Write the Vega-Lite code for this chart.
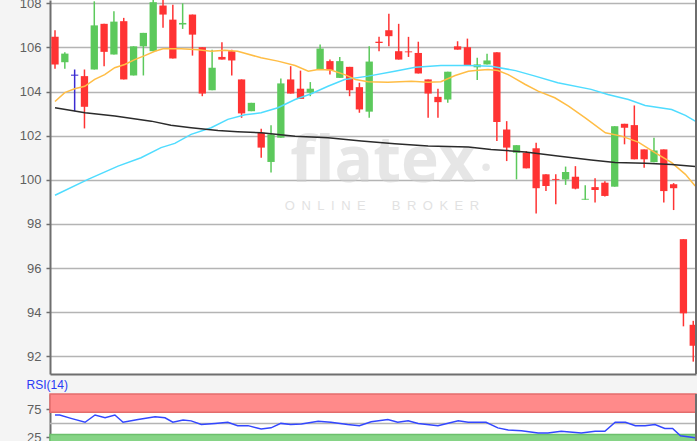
{
  "$schema": "https://vega.github.io/schema/vega-lite/v6.json",
  "background": "#f4f4f4",
  "padding": {"left": 19, "top": -3, "right": 0, "bottom": 0},
  "spacing": 4,
  "config": {
    "view": {"stroke": null, "fill": "#ffffff"},
    "font": "Liberation Sans",
    "axis": {
      "labelFont": "Liberation Sans", "labelFontSize": 13, "labelColor": "#5f5f5f",
      "domainColor": "#6e6e6e", "domainWidth": 2, "tickColor": "#6e6e6e", "tickSize": 4, "tickWidth": 1.5,
      "labelPadding": 5, "title": null, "gridColor": "#b4b4b4", "gridWidth": 1.5
    }
  },
  "datasets": {
    "one": [{}],
    "candles": [
      {"i": 1, "o": 106.48, "h": 106.78, "l": 105.03, "c": 105.23},
      {"i": 2, "o": 105.33, "h": 105.78, "l": 105.03, "c": 105.72},
      {"i": 3, "o": 104.74, "h": 105.0, "l": 103.11, "c": 104.74},
      {"i": 4, "o": 104.7, "h": 105.0, "l": 102.33, "c": 103.31},
      {"i": 5, "o": 105.0, "h": 108.09, "l": 105.0, "c": 107.0},
      {"i": 6, "o": 107.07, "h": 107.07, "l": 105.15, "c": 105.8},
      {"i": 7, "o": 105.68, "h": 107.64, "l": 105.68, "c": 107.17},
      {"i": 8, "o": 107.19, "h": 107.34, "l": 104.55, "c": 104.55},
      {"i": 9, "o": 104.73, "h": 106.05, "l": 104.73, "c": 106.05},
      {"i": 10, "o": 106.05, "h": 106.66, "l": 104.73, "c": 106.66},
      {"i": 11, "o": 105.83, "h": 108.4, "l": 105.83, "c": 108.05},
      {"i": 12, "o": 107.9, "h": 108.4, "l": 106.89, "c": 107.49},
      {"i": 13, "o": 107.26, "h": 107.94, "l": 105.5, "c": 105.5},
      {"i": 14, "o": 107.04, "h": 108.0, "l": 106.84, "c": 107.11},
      {"i": 15, "o": 107.49, "h": 107.49, "l": 105.63, "c": 106.58},
      {"i": 16, "o": 106.01, "h": 106.01, "l": 103.79, "c": 103.91},
      {"i": 17, "o": 104.06, "h": 105.9, "l": 104.06, "c": 105.08},
      {"i": 18, "o": 105.57, "h": 106.24, "l": 105.45, "c": 105.45},
      {"i": 19, "o": 105.83, "h": 105.9, "l": 104.73, "c": 105.41},
      {"i": 20, "o": 104.55, "h": 104.55, "l": 102.81, "c": 103.01},
      {"i": 21, "o": 103.11, "h": 103.49, "l": 103.11, "c": 103.49},
      {"i": 22, "o": 102.13, "h": 102.32, "l": 101.0, "c": 101.46},
      {"i": 23, "o": 100.81, "h": 102.47, "l": 100.33, "c": 102.06},
      {"i": 24, "o": 101.91, "h": 104.59, "l": 101.91, "c": 104.37},
      {"i": 25, "o": 104.55, "h": 105.15, "l": 103.91, "c": 103.91},
      {"i": 26, "o": 104.13, "h": 104.95, "l": 103.67, "c": 103.67},
      {"i": 27, "o": 103.95, "h": 104.43, "l": 103.79, "c": 104.13},
      {"i": 28, "o": 105.0, "h": 106.13, "l": 105.0, "c": 105.95},
      {"i": 29, "o": 105.38, "h": 105.45, "l": 104.77, "c": 104.97},
      {"i": 30, "o": 104.62, "h": 105.57, "l": 104.62, "c": 105.38},
      {"i": 31, "o": 105.12, "h": 105.12, "l": 103.79, "c": 104.06},
      {"i": 32, "o": 104.2, "h": 104.4, "l": 103.04, "c": 103.19},
      {"i": 33, "o": 103.09, "h": 106.05, "l": 102.81, "c": 105.36},
      {"i": 34, "o": 106.26, "h": 106.48, "l": 105.83, "c": 106.2},
      {"i": 35, "o": 106.78, "h": 107.53, "l": 106.05, "c": 106.51},
      {"i": 36, "o": 105.83, "h": 107.07, "l": 105.45, "c": 105.45},
      {"i": 37, "o": 105.82, "h": 106.48, "l": 105.57, "c": 105.78},
      {"i": 38, "o": 105.75, "h": 106.26, "l": 104.82, "c": 104.82},
      {"i": 39, "o": 104.55, "h": 104.55, "l": 102.81, "c": 103.91},
      {"i": 40, "o": 103.76, "h": 104.13, "l": 102.81, "c": 103.52},
      {"i": 41, "o": 103.64, "h": 104.9, "l": 103.49, "c": 104.9},
      {"i": 42, "o": 106.05, "h": 106.28, "l": 105.9, "c": 105.9},
      {"i": 43, "o": 106.01, "h": 106.4, "l": 105.19, "c": 105.19},
      {"i": 44, "o": 105.1, "h": 105.53, "l": 104.52, "c": 105.23},
      {"i": 45, "o": 105.23, "h": 105.71, "l": 105.23, "c": 105.41},
      {"i": 46, "o": 105.78, "h": 105.78, "l": 101.76, "c": 102.62},
      {"i": 47, "o": 102.28, "h": 102.66, "l": 100.85, "c": 101.46},
      {"i": 48, "o": 101.23, "h": 101.57, "l": 100.02, "c": 101.57},
      {"i": 49, "o": 101.23, "h": 101.3, "l": 100.52, "c": 100.52},
      {"i": 50, "o": 101.43, "h": 101.68, "l": 98.47, "c": 99.62},
      {"i": 51, "o": 100.25, "h": 100.25, "l": 99.49, "c": 99.72},
      {"i": 52, "o": 100.04, "h": 100.25, "l": 98.89, "c": 100.0},
      {"i": 53, "o": 100.02, "h": 100.6, "l": 99.77, "c": 100.35},
      {"i": 54, "o": 100.14, "h": 100.62, "l": 99.57, "c": 99.6},
      {"i": 55, "o": 99.1, "h": 99.75, "l": 99.1, "c": 99.14},
      {"i": 56, "o": 99.67, "h": 100.07, "l": 98.97, "c": 99.54},
      {"i": 57, "o": 99.87, "h": 99.93, "l": 99.25, "c": 99.27},
      {"i": 58, "o": 99.69, "h": 102.43, "l": 99.69, "c": 102.43},
      {"i": 59, "o": 102.54, "h": 102.54, "l": 101.61, "c": 102.36},
      {"i": 60, "o": 102.48, "h": 103.37, "l": 100.93, "c": 100.93},
      {"i": 61, "o": 101.38, "h": 101.38, "l": 100.55, "c": 100.93},
      {"i": 62, "o": 100.8, "h": 101.91, "l": 100.8, "c": 101.33},
      {"i": 63, "o": 101.38, "h": 101.38, "l": 98.97, "c": 99.49},
      {"i": 64, "o": 99.8, "h": 99.85, "l": 98.63, "c": 99.62},
      {"i": 65, "o": 97.31, "h": 97.31, "l": 93.36, "c": 93.95},
      {"i": 66, "o": 93.43, "h": 93.61, "l": 91.76, "c": 92.48}
    ],
    "orange": [
      {"i": 1, "v": 103.55}, {"i": 1.99, "v": 103.95}, {"i": 3.0, "v": 104.13}, {"i": 4.03, "v": 104.24},
      {"i": 5.04, "v": 104.55}, {"i": 6.06, "v": 104.77}, {"i": 7.08, "v": 105.08}, {"i": 8.1, "v": 105.23},
      {"i": 9.12, "v": 105.45}, {"i": 10.14, "v": 105.63}, {"i": 11.16, "v": 105.83}, {"i": 12.0, "v": 105.94},
      {"i": 13.84, "v": 105.94}, {"i": 15.57, "v": 105.9}, {"i": 16.9, "v": 105.83}, {"i": 18.3, "v": 105.87},
      {"i": 19.6, "v": 105.83}, {"i": 21.99, "v": 105.53}, {"i": 23.7, "v": 105.38}, {"i": 25.45, "v": 105.18},
      {"i": 26.8, "v": 104.92}, {"i": 27.8, "v": 105.0}, {"i": 29.1, "v": 104.98}, {"i": 30.5, "v": 104.77},
      {"i": 31.6, "v": 104.55}, {"i": 32.9, "v": 104.44}, {"i": 34.9, "v": 104.42}, {"i": 37.3, "v": 104.47},
      {"i": 39.0, "v": 104.42}, {"i": 40.3, "v": 104.45}, {"i": 41.75, "v": 104.73}, {"i": 43.1, "v": 104.92},
      {"i": 43.8, "v": 104.95}, {"i": 45.1, "v": 105.0}, {"i": 46.1, "v": 104.95}, {"i": 47.15, "v": 104.77},
      {"i": 48.9, "v": 104.32}, {"i": 50.2, "v": 104.02}, {"i": 51.9, "v": 103.72}, {"i": 53.3, "v": 103.34},
      {"i": 55.0, "v": 102.81}, {"i": 57.05, "v": 102.13}, {"i": 58.7, "v": 101.98}, {"i": 60.4, "v": 101.71},
      {"i": 62.1, "v": 101.23}, {"i": 63.8, "v": 100.78}, {"i": 65.2, "v": 100.25}, {"i": 66.2, "v": 99.72}
    ],
    "cyan": [
      {"i": 1, "v": 99.3}, {"i": 4.36, "v": 100.02}, {"i": 7.42, "v": 100.62}, {"i": 9.76, "v": 101.0},
      {"i": 11.8, "v": 101.46}, {"i": 13.2, "v": 101.65}, {"i": 14.86, "v": 102.06}, {"i": 16.9, "v": 102.36},
      {"i": 18.6, "v": 102.74}, {"i": 20.36, "v": 102.95}, {"i": 21.99, "v": 103.04}, {"i": 23.7, "v": 103.27},
      {"i": 25.45, "v": 103.64}, {"i": 27.1, "v": 103.9}, {"i": 28.8, "v": 104.24}, {"i": 30.5, "v": 104.55},
      {"i": 32.9, "v": 104.7}, {"i": 35.6, "v": 104.92}, {"i": 37.7, "v": 105.1}, {"i": 40.3, "v": 105.18},
      {"i": 43.1, "v": 105.18}, {"i": 45.4, "v": 105.15}, {"i": 47.9, "v": 104.95}, {"i": 49.9, "v": 104.7},
      {"i": 52.2, "v": 104.4}, {"i": 55.6, "v": 104.1}, {"i": 57.3, "v": 103.87}, {"i": 59.4, "v": 103.64},
      {"i": 61.1, "v": 103.37}, {"i": 63.8, "v": 103.19}, {"i": 65.2, "v": 102.92}, {"i": 66.2, "v": 102.66}
    ],
    "black": [
      {"i": 1, "v": 103.27}, {"i": 4.06, "v": 103.04}, {"i": 7.1, "v": 102.89}, {"i": 10.8, "v": 102.66},
      {"i": 12.8, "v": 102.47}, {"i": 14.86, "v": 102.36}, {"i": 17.6, "v": 102.24}, {"i": 19.6, "v": 102.18},
      {"i": 22.0, "v": 102.13}, {"i": 25.45, "v": 101.98}, {"i": 28.8, "v": 101.91}, {"i": 32.2, "v": 101.76},
      {"i": 35.6, "v": 101.64}, {"i": 39.0, "v": 101.53}, {"i": 43.1, "v": 101.49}, {"i": 45.4, "v": 101.38},
      {"i": 48.9, "v": 101.26}, {"i": 52.2, "v": 101.08}, {"i": 55.6, "v": 100.9}, {"i": 58.05, "v": 100.78},
      {"i": 61.1, "v": 100.75}, {"i": 63.8, "v": 100.7}, {"i": 66.2, "v": 100.6}
    ],
    "rsi": [
      {"i": 1, "v": 65}, {"i": 1.48, "v": 65}, {"i": 2.63, "v": 59}, {"i": 4.06, "v": 52}, {"i": 5.08, "v": 65},
      {"i": 6.1, "v": 60}, {"i": 7.1, "v": 65}, {"i": 7.93, "v": 52}, {"i": 9.46, "v": 57}, {"i": 11.19, "v": 62},
      {"i": 12.2, "v": 60}, {"i": 13.0, "v": 52}, {"i": 14.04, "v": 56}, {"i": 14.86, "v": 54.5}, {"i": 15.9, "v": 48},
      {"i": 17.3, "v": 50}, {"i": 18.6, "v": 52}, {"i": 19.6, "v": 46}, {"i": 20.66, "v": 46}, {"i": 21.99, "v": 40},
      {"i": 23.0, "v": 42}, {"i": 24.0, "v": 50}, {"i": 25.0, "v": 48}, {"i": 26.1, "v": 49}, {"i": 27.8, "v": 54},
      {"i": 29.1, "v": 52}, {"i": 30.8, "v": 48}, {"i": 32.0, "v": 46}, {"i": 33.2, "v": 53}, {"i": 34.9, "v": 57},
      {"i": 35.9, "v": 52}, {"i": 36.97, "v": 54.5}, {"i": 37.98, "v": 50}, {"i": 40.0, "v": 46}, {"i": 42.06, "v": 54.5},
      {"i": 43.08, "v": 52}, {"i": 44.9, "v": 52}, {"i": 46.1, "v": 42}, {"i": 47.15, "v": 38}, {"i": 48.5, "v": 37},
      {"i": 50.2, "v": 33}, {"i": 51.2, "v": 33}, {"i": 52.55, "v": 36}, {"i": 54.6, "v": 33}, {"i": 56.0, "v": 36},
      {"i": 57.0, "v": 36}, {"i": 58.05, "v": 52}, {"i": 59.1, "v": 52}, {"i": 60.1, "v": 46}, {"i": 61.1, "v": 46},
      {"i": 62.1, "v": 48}, {"i": 63.1, "v": 41}, {"i": 63.9, "v": 41}, {"i": 64.7, "v": 28}, {"i": 66.2, "v": 24.5}
    ]
  },
  "vconcat": [
    {
      "width": 646,
      "height": 374,
      "layer": [
        {
          "data": {"name": "one"},
          "mark": {"type": "text", "text": "flatex", "font": "Open Sans", "fontWeight": "bold", "fontSize": 64, "color": "#cfcfcf", "opacity": 0.5, "align": "center", "baseline": "alphabetic"},
          "encoding": {"x": {"datum": 34.4, "type": "quantitative"}, "y": {"datum": 99.91, "type": "quantitative"}}
        },
        {
          "data": {"name": "one"},
          "mark": {"type": "text", "text": "O\u2002N\u2002L\u2002I\u2002N\u2002E\u2003\u2003B\u2002R\u2002O\u2002K\u2002E\u2002R", "font": "Liberation Sans", "fontSize": 13, "color": "#cfcfcf", "opacity": 0.6, "align": "center", "baseline": "alphabetic"},
          "encoding": {"x": {"datum": 34.3, "type": "quantitative"}, "y": {"datum": 98.64, "type": "quantitative"}}
        },
        {
          "data": {"name": "one"},
          "mark": {"type": "point", "filled": true, "size": 55, "color": "#cfcfcf", "opacity": 0.5},
          "encoding": {"x": {"datum": 44.9, "type": "quantitative"}, "y": {"datum": 100.57, "type": "quantitative"}}
        },
        {
          "data": {"name": "candles"},
          "mark": {"type": "rule", "strokeWidth": 1.5, "clip": true},
          "encoding": {
            "x": {"field": "i", "type": "quantitative", "scale": {"domain": [0.49, 66.28], "nice": false, "zero": false, "padding": 0},
                  "axis": {"labels": false, "ticks": false, "grid": false, "domain": true}},
            "y": {"field": "h", "type": "quantitative", "scale": {"domain": [91.2, 108.15], "nice": false, "zero": false, "padding": 0},
                  "axis": {"values": [92, 94, 96, 98, 100, 102, 104, 106, 108], "grid": true}},
            "y2": {"field": "l"},
            "color": {"condition": [{"test": "datum.c == datum.o", "value": "#3a2bd1"}, {"test": "datum.c > datum.o", "value": "#5cc95c"}], "value": "#ff3333"}
          }
        },
        {
          "data": {"name": "candles"},
          "mark": {"type": "bar", "width": 7.3, "clip": true},
          "encoding": {
            "x": {"field": "i", "type": "quantitative"},
            "y": {"field": "o", "type": "quantitative"},
            "y2": {"field": "c"},
            "color": {"condition": [{"test": "datum.c == datum.o", "value": "#3a2bd1"}, {"test": "datum.c > datum.o", "value": "#5cc95c"}], "value": "#ff3333"}
          }
        },
        {
          "data": {"name": "candles"},
          "transform": [{"filter": "datum.o == datum.c"}],
          "mark": {"type": "tick", "orient": "horizontal", "size": 7.3, "thickness": 1.5, "color": "#3a2bd1"},
          "encoding": {
            "x": {"field": "i", "type": "quantitative"},
            "y": {"field": "c", "type": "quantitative"}
          }
        },
        {
          "data": {"name": "cyan"},
          "mark": {"type": "line", "color": "#4fdcff", "strokeWidth": 1.5, "clip": true},
          "encoding": {"x": {"field": "i", "type": "quantitative"}, "y": {"field": "v", "type": "quantitative"}}
        },
        {
          "data": {"name": "orange"},
          "mark": {"type": "line", "color": "#ffbd45", "strokeWidth": 1.5, "clip": true},
          "encoding": {"x": {"field": "i", "type": "quantitative"}, "y": {"field": "v", "type": "quantitative"}}
        },
        {
          "data": {"name": "black"},
          "mark": {"type": "line", "color": "#2b2b2b", "strokeWidth": 1.5, "clip": true},
          "encoding": {"x": {"field": "i", "type": "quantitative"}, "y": {"field": "v", "type": "quantitative"}}
        },
        {
          "data": {"name": "one"},
          "mark": {"type": "rule", "color": "#6e6e6e", "strokeWidth": 2},
          "encoding": {"x": {"datum": 66.28, "type": "quantitative"}, "y": {"datum": 91.2, "type": "quantitative"}, "y2": {"datum": 108.15}}
        }
      ]
    },
    {
      "width": 646,
      "height": 48.7,
      "title": {"text": "RSI(14)", "anchor": "start", "font": "Liberation Sans", "fontSize": 12, "fontWeight": "normal", "color": "#2a3bf5", "offset": 1},
      "layer": [
        {
          "data": {"name": "one"},
          "mark": {"type": "rect", "fill": "#ff8a8a", "stroke": "#e46c6c", "strokeWidth": 1.5},
          "encoding": {
            "x": {"datum": 0.49, "type": "quantitative", "scale": {"domain": [0.49, 66.28], "nice": false, "zero": false, "padding": 0}, "axis": null},
            "x2": {"datum": 66.28},
            "y": {"datum": 70, "type": "quantitative", "scale": {"domain": [15.5, 102.5], "nice": false, "zero": false, "padding": 0},
                  "axis": {"values": [25, 75], "grid": false}},
            "y2": {"datum": 102.5}
          }
        },
        {
          "data": {"name": "one"},
          "mark": {"type": "rect", "fill": "#86d486", "stroke": "#6cc06c", "strokeWidth": 1.5},
          "encoding": {
            "x": {"datum": 0.49, "type": "quantitative"},
            "x2": {"datum": 66.28},
            "y": {"datum": 15.5, "type": "quantitative"},
            "y2": {"datum": 30}
          }
        },
        {
          "data": {"name": "one"},
          "mark": {"type": "rule", "color": "#b4b4b4", "strokeWidth": 1.5},
          "encoding": {
            "x": {"datum": 0.49, "type": "quantitative"},
            "x2": {"datum": 66.28},
            "y": {"datum": 50, "type": "quantitative"}
          }
        },
        {
          "data": {"name": "rsi"},
          "mark": {"type": "line", "color": "#3347ff", "strokeWidth": 1.5, "clip": true},
          "encoding": {"x": {"field": "i", "type": "quantitative"}, "y": {"field": "v", "type": "quantitative"}}
        },
        {
          "data": {"name": "one"},
          "mark": {"type": "rule", "color": "#6e6e6e", "strokeWidth": 2},
          "encoding": {"x": {"datum": 66.28, "type": "quantitative"}, "y": {"datum": 15.5, "type": "quantitative"}, "y2": {"datum": 102.5}}
        }
      ]
    }
  ]
}
